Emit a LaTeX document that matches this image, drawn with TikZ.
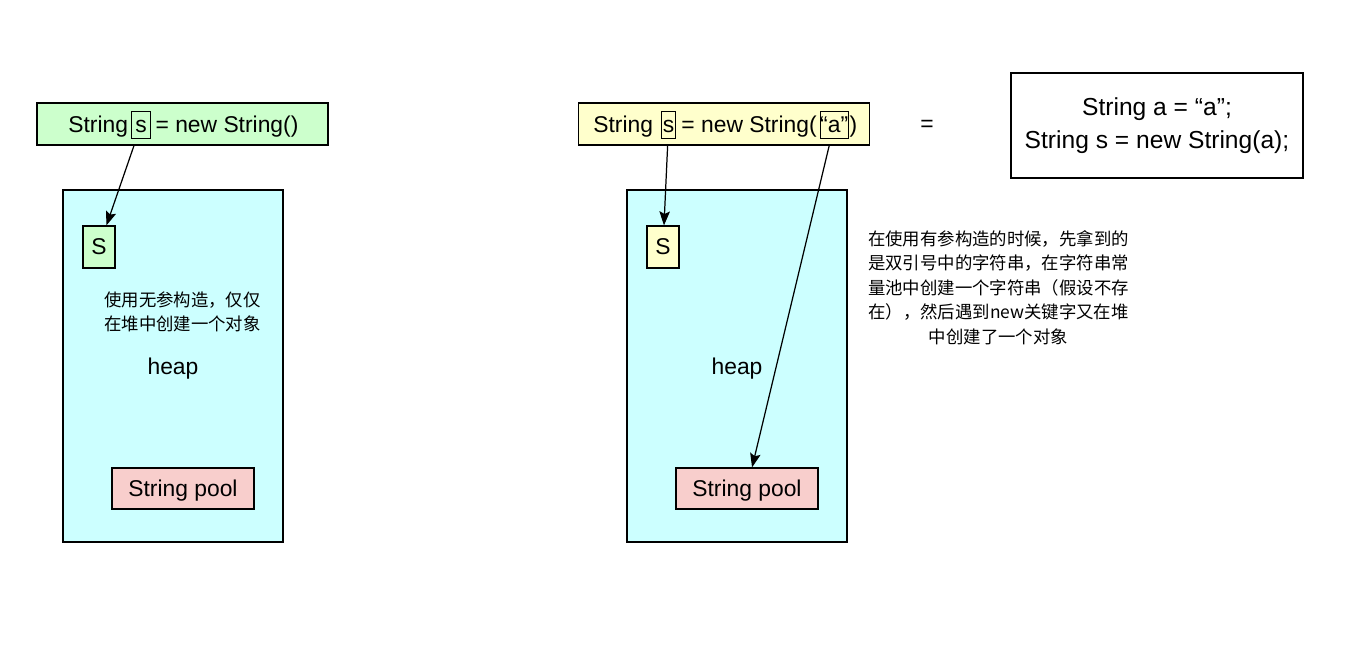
\documentclass[tikz,border=0pt]{standalone}
\usepackage{fontspec}
\setmainfont{Liberation Sans}
\newfontfamily\cjk{Noto Sans CJK SC}
\usetikzlibrary{arrows.meta, positioning}
\definecolor{CodeGreen}{RGB}{204, 255, 204}
\definecolor{CodeYellow}{RGB}{255, 255, 204}
\definecolor{HeapCyan}{RGB}{204, 255, 255}
\definecolor{PoolRed}{RGB}{248, 206, 204}

\begin{document}
\begin{tikzpicture}[
        x=0.02cm, y=-0.02cm,
        every node/.style={font=\fontsize{13}{16}\selectfont},
        codebox/.style={rectangle, draw, line width=0.7pt, minimum width=5.82cm, minimum height=0.84cm},
        word/.style={inner sep=0pt},
        var/.style={rectangle, draw, line width=0.6pt, inner xsep=2pt, inner ysep=1.5pt, text height=10pt, text depth=2pt},
        heapbox/.style={rectangle, draw, line width=0.7pt, fill=HeapCyan, minimum width=4.4cm, minimum height=7.04cm, text depth=0pt},
        ref/.style={rectangle, draw, line width=0.7pt, minimum width=0.64cm, minimum height=0.84cm},
        pool/.style={rectangle, draw, line width=0.7pt, fill=PoolRed, minimum width=2.84cm, minimum height=0.82cm, text depth=0pt},
        note/.style={font=\cjk\fontsize{9.9}{14}\selectfont, inner sep=0pt},
        arrow/.style={line width=0.7pt, -{Stealth[length=8pt, width=6pt, inset=1.5pt]}}
    ]
    \useasboundingbox (0,0) rectangle (1362,670);

    % Left: no-arg constructor
    \node[codebox, fill=CodeGreen] (code1) at (182.5,124) {};
    \node[word, anchor=base west] (str1) at (68,132) {String};
    \node[var, anchor=base west, xshift=1.7pt] (s1) at (str1.base east) {s};
    \node[word, anchor=base west, xshift=2.5pt] (rest1) at (s1.base east) {= new String()};

    \node[heapbox] (heap1) at (173,366) {heap};
    \node[ref, fill=CodeGreen] (S1) at (99,247) {S};
    \node[note, align=left] (note1) at (182.5,312) {使用无参构造，仅仅\\在堆中创建一个对象};
    \node[pool] (pool1) at (183,488.5) {String pool};

    % Right: constructor with "a"
    \node[codebox, fill=CodeYellow] (code2) at (724,124) {};
    \node[word, anchor=base west] (str2) at (593,132) {String};
    \node[var, inner xsep=0.6pt, anchor=base west, xshift=4.5pt] (s2) at (str2.base east) {s};
    \node[word, anchor=base west, xshift=3pt] (rest2) at (s2.base east) {= new String(};
    \node[var, inner xsep=0pt, anchor=base west, xshift=1.5pt] (a2) at (rest2.base east) {“a”};
    \node[word, anchor=base west, xshift=0.3pt] (close2) at (a2.base east) {)};

    \node[heapbox] (heap2) at (737,366) {heap};
    \node[ref, fill=CodeYellow] (S2) at (663,247) {S};
    \node[pool] (pool2) at (747,488.5) {String pool};

    % Equivalent code
    \node (eq) at (927,126) {=};
    \node[rectangle, draw, line width=0.7pt, minimum width=5.84cm, minimum height=2.1cm, align=center,
          font=\fontsize{14}{18.5}\selectfont] (same) at (1157,125.5) {String a = “a”;\\String s = new String(a);};
    \node[note, align=center] (note2) at (998.5,287.5)
        {在使用有参构造的时候，先拿到的\\是双引号中的字符串，在字符串常\\量池中创建一个字符串（假设不存\\在），然后遇到new关键字又在堆\\中创建了一个对象};

    % Arrows
    \draw[arrow, shorten <=4pt] (s1) -- (S1);
    \draw[arrow, shorten <=4pt] (s2) -- (S2);
    \draw[arrow, shorten <=4pt] (a2) -- (pool2);

\end{tikzpicture}
\end{document}
